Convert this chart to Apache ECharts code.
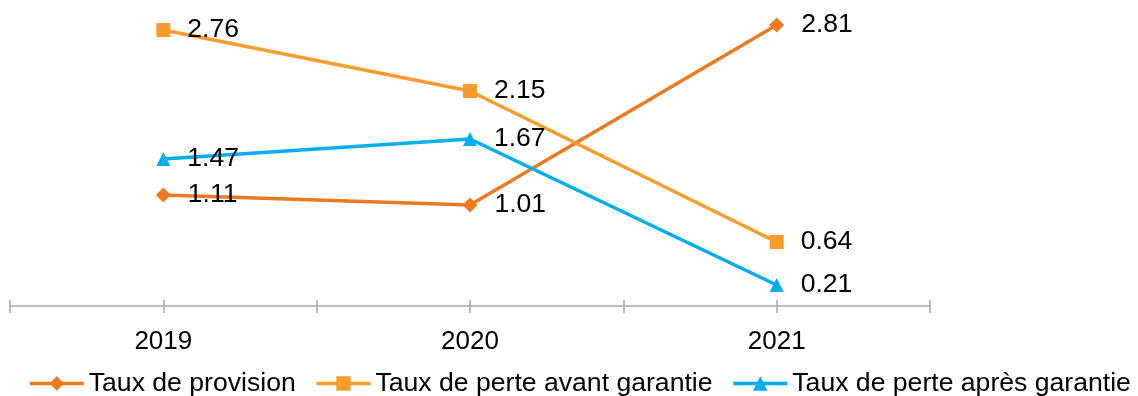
<!DOCTYPE html>
<html>
<head>
<meta charset="utf-8">
<script src="https://cdn.jsdelivr.net/npm/echarts@6/dist/echarts.min.js"></script>
<style>
  html, body { margin: 0; padding: 0; background: #fff; }
  #chart { width: 1138px; height: 396px; }
</style>
</head>
<body>
<div id="chart"></div>
<script>
// Years on the horizontal axis
const years = ['2019', '2020', '2021'];

// Rates (%) per year
const tauxProvision = [1.11, 1.01, 2.81];
const tauxPerteAvant = [2.76, 2.15, 0.64];
const tauxPerteApres = [1.47, 1.67, 0.21];

const seriesNames = ['Taux de provision', 'Taux de perte avant garantie', 'Taux de perte après garantie'];

const FONT = "'Liberation Sans', Arial, sans-serif";
const AXIS_GREY = '#a6a6a6';

// Half-category slots, used only to draw tick marks at centres and boundaries
const halfSlots = ['', '', '', '', '', ''];

function lineSeries(name, data, color, symbol, size) {
  return {
    name: name,
    type: 'line',
    data: data,
    symbol: symbol,
    symbolSize: size,
    showAllSymbol: true,
    lineStyle: { color: color, width: 3.5 },
    itemStyle: { color: color },
    label: {
      show: true,
      position: 'right',
      distance: 17,
      color: '#000',
      fontFamily: FONT,
      fontSize: 26.5,
      formatter: p => p.value.toFixed(2)
    },
    emphasis: { disabled: true }
  };
}

const chart = echarts.init(document.getElementById('chart'), null, { renderer: 'canvas' });
chart.setOption({
  animation: false,
  backgroundColor: '#fff',
  grid: { left: 10, right: 208, top: 6, bottom: 90, containLabel: false },
  legend: {
    data: seriesNames,
    left: 28,
    top: 370,
    width: 1200,
    padding: 0,
    itemWidth: 54,
    itemHeight: 18,
    itemGap: 19,
    lineStyle: { width: 3.5 },
    textStyle: { color: '#000', fontFamily: FONT, fontSize: 26.6 }
  },
  xAxis: [
    {
      type: 'category',
      data: years,
      boundaryGap: true,
      axisLine: { onZero: false, lineStyle: { color: AXIS_GREY, width: 1.5 } },
      axisTick: { show: false },
      axisLabel: { color: '#000', fontFamily: FONT, fontSize: 26, margin: 23 }
    },
    {
      type: 'category',
      data: halfSlots,
      position: 'bottom',
      boundaryGap: true,
      axisLine: { show: false, onZero: false },
      axisLabel: { show: false },
      axisTick: { show: true, inside: true, length: 6, lineStyle: { color: AXIS_GREY, width: 1.5 } }
    },
    {
      type: 'category',
      data: halfSlots,
      position: 'bottom',
      boundaryGap: true,
      axisLine: { show: false, onZero: false },
      axisLabel: { show: false },
      axisTick: { show: true, inside: false, length: 7, lineStyle: { color: AXIS_GREY, width: 1.5 } }
    }
  ],
  yAxis: {
    type: 'value',
    min: 0,
    max: 3,
    show: false,
    splitLine: { show: false }
  },
  series: [
    lineSeries(seriesNames[0], tauxProvision, '#ee7a20', 'diamond', 15),
    lineSeries(seriesNames[1], tauxPerteAvant, '#f99b2d', 'rect', 14),
    lineSeries(seriesNames[2], tauxPerteApres, '#00aeef', 'triangle', 14)
  ]
});
</script>
</body>
</html>
